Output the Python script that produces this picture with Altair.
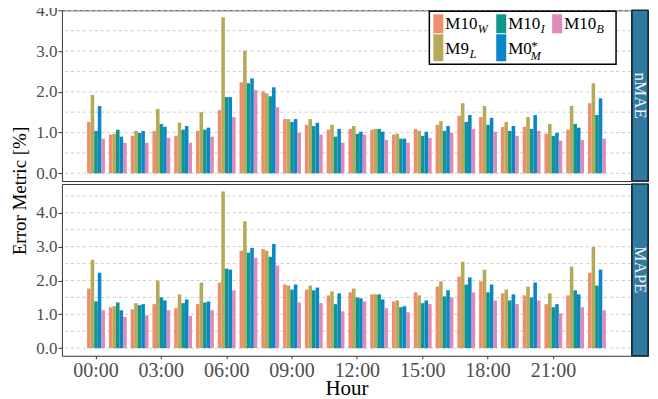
import altair as alt
import pandas as pd

# ---------------- data ----------------
hour_labels = [f"{h:02d}:00" for h in range(24)]
tick_labels = ["00:00", "03:00", "06:00", "09:00", "12:00", "15:00", "18:00", "21:00"]
series = ["M10_W", "M9_L", "M10_I", "M0*_M", "M10_B"]
colors = ["#EE8E6E", "#B6AA56", "#10968F", "#0A87C8", "#DF89B6"]

nmae_m10w = [1.26, 0.95, 0.92, 1.04, 0.92, 1.04, 1.55, 2.23, 2.01, 1.33, 1.19, 1.07,
             1.09, 1.07, 0.95, 1.09, 1.19, 1.41, 1.38, 1.14, 1.14, 0.97, 1.07, 1.72]
nmae_m9l = [1.92, 0.97, 1.04, 1.58, 1.24, 1.50, 3.83, 3.01, 1.96, 1.33, 1.33, 1.19,
            1.16, 1.09, 0.97, 1.04, 1.28, 1.72, 1.65, 1.26, 1.38, 1.21, 1.65, 2.21]
nmae_m10i = [1.04, 1.07, 0.99, 1.21, 1.07, 1.07, 1.87, 2.21, 1.89, 1.26, 1.16, 0.90,
             0.97, 1.09, 0.85, 0.92, 1.04, 1.26, 1.19, 1.04, 1.09, 0.92, 1.21, 1.43]
nmae_m0m = [1.65, 0.90, 1.04, 1.14, 1.16, 1.12, 1.87, 2.33, 2.11, 1.33, 1.24, 1.09,
            1.02, 1.02, 0.85, 1.02, 1.16, 1.43, 1.36, 1.16, 1.43, 0.99, 1.12, 1.84]
nmae_m10b = [0.85, 0.75, 0.75, 0.87, 0.75, 0.90, 1.38, 2.04, 1.62, 0.99, 0.95, 0.75,
             0.95, 0.82, 0.75, 0.87, 0.99, 1.09, 1.02, 0.92, 1.04, 0.80, 0.82, 0.85]

mape_m10w = [1.76, 1.21, 1.15, 1.30, 1.18, 1.30, 1.94, 2.88, 2.93, 1.88, 1.73, 1.56,
             1.65, 1.59, 1.38, 1.65, 1.82, 2.11, 1.97, 1.62, 1.56, 1.30, 1.56, 2.23]
mape_m9l = [2.61, 1.24, 1.33, 2.00, 1.59, 1.94, 4.63, 3.75, 2.88, 1.85, 1.85, 1.68,
            1.76, 1.59, 1.41, 1.56, 1.97, 2.55, 2.32, 1.73, 1.82, 1.62, 2.41, 2.99]
mape_m10i = [1.38, 1.35, 1.27, 1.50, 1.33, 1.35, 2.35, 2.82, 2.70, 1.73, 1.71, 1.30,
             1.50, 1.59, 1.21, 1.33, 1.53, 1.88, 1.65, 1.41, 1.50, 1.21, 1.71, 1.85]
mape_m0m = [2.23, 1.12, 1.30, 1.41, 1.44, 1.38, 2.32, 2.96, 3.08, 1.88, 1.79, 1.62,
            1.47, 1.44, 1.24, 1.41, 1.71, 2.09, 1.88, 1.59, 1.94, 1.30, 1.59, 2.32]
mape_m10b = [1.12, 0.92, 0.97, 1.12, 0.95, 1.12, 1.71, 2.67, 2.44, 1.35, 1.33, 1.09,
             1.38, 1.18, 1.06, 1.30, 1.50, 1.65, 1.41, 1.30, 1.41, 1.03, 1.21, 1.12]

y_ticks = [0, 1, 2, 3, 4]
grid_top = [0, 0.5, 1, 1.5, 2, 2.5, 3, 3.5, 4]
grid_bot = [0, 0.5, 1, 1.5, 2, 2.5, 3, 3.5, 4, 4.5]

# ---------------- styling ----------------
SERIF = "Liberation Serif"
W = 570
H_TOP = 171
H_BOT = 172
STRIP_W = 16
LX = -6  # horizontal shift of the legend block
dummy = pd.DataFrame({"a": [0]})
# empty slots at both ends of the band scale to reproduce the wide outer margin
x_domain = [" "] + hour_labels + ["  "]


def long_table(cols):
    rows = []
    for s, vals in zip(series, cols):
        for h, v in zip(hour_labels, vals):
            rows.append({"hour": h, "series": s, "value": v})
    return pd.DataFrame(rows)


def panel(cols, ydomain, grid_vals, height, show_x, extra=()):
    df = long_table(cols)
    y_axis = alt.Axis(values=y_ticks, format=".1f", title=None, grid=False, domain=False,
                      tickSize=4, labelPadding=1, labelFontSize=17)
    y_scale = alt.Scale(domain=ydomain, nice=False, zero=False)
    if show_x:
        x_axis = alt.Axis(values=tick_labels, title="Hour", labelAngle=0, domain=False,
                          tickSize=3, labelPadding=2, labelFontSize=20, titleFontSize=21,
                          titlePadding=-3, grid=False)
    else:
        x_axis = None
    x_scale = alt.Scale(domain=x_domain, paddingInner=0.18, paddingOuter=0.155)

    grid = alt.Chart(pd.DataFrame({"value": grid_vals})).mark_rule(
        color="#CCCCCC", strokeDash=[3, 3], strokeWidth=1
    ).encode(y=alt.Y("value:Q", scale=y_scale, axis=y_axis))

    bars = alt.Chart(df).mark_bar().encode(
        x=alt.X("hour:N", scale=x_scale, axis=x_axis),
        xOffset=alt.XOffset("series:N", sort=series,
                            scale=alt.Scale(domain=series, paddingInner=0, paddingOuter=0)),
        y=alt.Y("value:Q", scale=y_scale, axis=y_axis, stack=None),
        color=alt.Color("series:N", scale=alt.Scale(domain=series, range=colors), legend=None),
    )
    return alt.layer(grid, bars, *extra).properties(width=W, height=height)


def fixed_text(text, x, y, size, italic=False, angle=0, align="left", baseline="alphabetic",
               color="black"):
    kw = dict(text=text, font=SERIF, fontSize=size, color=color, align=align, baseline=baseline)
    if italic:
        kw["fontStyle"] = "italic"
    if angle:
        kw["angle"] = angle
    return alt.Chart(dummy).mark_text(**kw).encode(x=alt.value(x), y=alt.value(y))


def fixed_rect(x, x2, y, y2, fill, stroke=None, sw=0):
    kw = dict(fill=fill)
    if stroke:
        kw["stroke"] = stroke
        kw["strokeWidth"] = sw
    return alt.Chart(dummy).mark_rect(**kw).encode(
        x=alt.value(x), x2=alt.value(x2), y=alt.value(y), y2=alt.value(y2))


# custom legend (layout constants)
legend_layers = [fixed_rect(374 + LX, 561 + LX, 1, 54, "white", "black", 1.5)]
# (series index, swatch x, row y0, row y1, main text, baseline, sub text, sub x, sub baseline)
legend_items = [
    (0, 378, 4, 23, "M10", 19, "W", 422.5, 23),
    (2, 441, 4, 23, "M10", 19, "I", 485.5, 23),
    (4, 497, 4, 23, "M10", 19, "B", 541.5, 23),
    (1, 378, 24, 51, "M9", 44, "L", 414.5, 48),
    (3, 441, 24, 51, "M0", 44, "M", 475.5, 50),
]
for idx, sx, y0, y1, main, bl, sub, subx, subbl in legend_items:
    legend_layers.append(fixed_rect(sx + LX, sx + 10 + LX, y0, y1, colors[idx]))
    legend_layers.append(fixed_text(main, sx + 12 + LX, bl, 17))
    legend_layers.append(fixed_text(sub, subx + LX, subbl, 12, italic=True))
legend_layers.append(fixed_text("*", 476 + LX, 40, 13))

ytitle = fixed_text("Error Metric [%]", -41.5, 181, 19, angle=270, align="center",
                    baseline="middle")

top = panel([nmae_m10w, nmae_m9l, nmae_m10i, nmae_m0m, nmae_m10b], [-0.19, 4.0], grid_top,
            H_TOP, False, extra=[ytitle] + legend_layers)
bot = panel([mape_m10w, mape_m9l, mape_m10i, mape_m0m, mape_m10b], [-0.225, 4.85], grid_bot,
            H_BOT, True)


def strip(label, h):
    box = fixed_rect(0, STRIP_W, 0, h, "#2E7AA1", "#1B2A34", 1.5)
    txt = fixed_text(label, STRIP_W / 2, h / 2, 17, angle=90, align="center", baseline="middle",
                     color="#F2F2F2")
    return alt.layer(box, txt).properties(width=STRIP_W, height=h)


chart = alt.concat(
    top, strip("nMAE", H_TOP), bot, strip("MAPE", H_BOT),
    columns=2, spacing={"row": 3, "column": 1}, bounds="flush",
).resolve_scale(
    x="independent", y="independent"
).properties(
    padding={"left": 3, "top": -8, "right": 0, "bottom": -3}
).configure_view(
    stroke="#333333", strokeWidth=1
).configure_axis(
    labelFont=SERIF, titleFont=SERIF, labelColor="#4D4D4D", titleColor="black",
    tickColor="#333333", titleFontWeight="normal"
)

chart.save("out.html", embed_options={"renderer": "svg", "actions": False})
